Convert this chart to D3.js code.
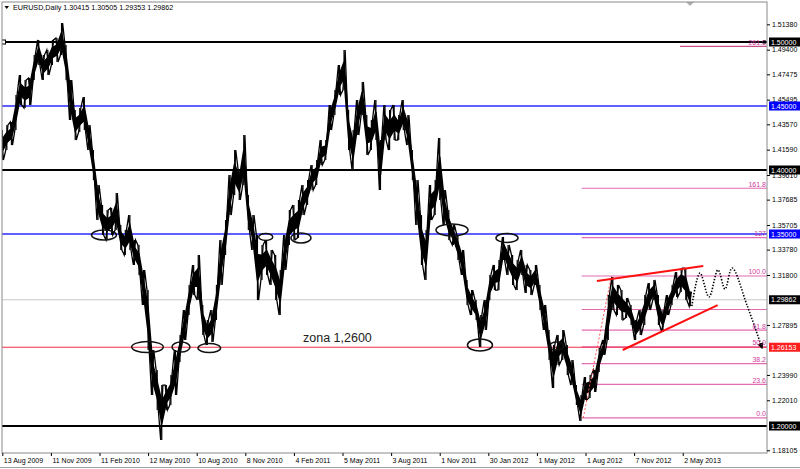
<!DOCTYPE html>
<html><head><meta charset="utf-8">
<script src="https://cdn.jsdelivr.net/npm/d3@7"></script>
<style>
body{margin:0;background:#fff}
svg{display:block}
text{font-family:"Liberation Sans",Arial,sans-serif}
</style>
</head><body>
<svg id="c" width="800" height="469"></svg>
<script>
// ---------- DATA ----------
const symbolName = "EURUSD,Daily";
const lastOHLC = [1.30415, 1.30505, 1.29353, 1.29862];
const dateLabels = ["13 Aug 2009","11 Nov 2009","11 Feb 2010","12 May 2010","10 Aug 2010","8 Nov 2010","4 Feb 2011","5 May 2011","3 Aug 2011","1 Nov 2011","30 Jan 2012","1 May 2012","1 Aug 2012","7 Nov 2012","2 May 2013"];
const barsPerLabel = 64;     // trading days between date labels
const barsPerSample = 6;     // trading days per high/low sample
const highs = [1.4312,1.4352,1.4375,1.4586,1.4742,1.4703,1.4719,1.4898,1.5016,1.4898,
1.4937,1.5016,1.5031,1.5148,1.4976,1.4703,1.4469,1.4484,1.4570,1.4352,
1.4156,1.3883,1.3727,1.3687,1.3703,1.3820,1.3570,1.3531,1.3648,1.3453,
1.3414,1.3219,1.3062,1.2594,1.2438,1.2320,1.2320,1.2398,1.2594,1.2711,
1.2906,1.3102,1.3258,1.3336,1.2945,1.2828,1.2906,1.3102,1.3453,1.3609,
1.3961,1.4156,1.4000,1.4273,1.3805,1.3648,1.3492,1.3414,1.3453,1.3375,
1.3336,1.3219,1.3492,1.3687,1.3727,1.3766,1.3883,1.3922,1.4039,1.4078,
1.4234,1.4234,1.4508,1.4625,1.4820,1.4937,1.4469,1.4312,1.4547,1.4687,
1.4430,1.4391,1.4547,1.4234,1.4508,1.4469,1.4508,1.4430,1.4547,1.4430,
1.4156,1.3922,1.3648,1.3531,1.3883,1.3922,1.4250,1.3844,1.3687,1.3570,
1.3492,1.3375,1.3141,1.3062,1.2984,1.2867,1.2984,1.3180,1.3258,1.3297,
1.3477,1.3414,1.3336,1.3297,1.3375,1.3258,1.3219,1.3258,1.3102,1.2945,
1.2750,1.2633,1.2711,1.2750,1.2633,1.2516,1.2320,1.2242,1.2383,1.2398,
1.2438,1.2609,1.2672,1.3023,1.3164,1.3102,1.3062,1.3000,1.2945,1.2828,
1.2906,1.3023,1.3117,1.3141,1.3023,1.2906,1.3023,1.3102,1.3203,1.3234,
1.3234,1.3050];
const lows = [1.4078,1.4156,1.4195,1.4312,1.4508,1.4484,1.4508,1.4703,1.4820,1.4703,
1.4742,1.4820,1.4844,1.4898,1.4703,1.4391,1.4234,1.4297,1.4312,1.4156,
1.3922,1.3609,1.3492,1.3453,1.3492,1.3531,1.3375,1.3336,1.3375,1.3258,
1.3180,1.2945,1.2594,1.2242,1.2125,1.1891,1.2125,1.2164,1.2242,1.2500,
1.2672,1.2867,1.3023,1.2984,1.2711,1.2633,1.2656,1.2828,1.3102,1.3336,
1.3648,1.3805,1.3766,1.3883,1.3531,1.3375,1.2984,1.3141,1.3180,1.3102,
1.2984,1.2867,1.3219,1.3414,1.3453,1.3469,1.3648,1.3727,1.3844,1.3883,
1.4039,1.4078,1.4312,1.4430,1.4586,1.4625,1.4156,1.4000,1.4273,1.4430,
1.4117,1.4156,1.4234,1.3844,1.4234,1.4156,1.4234,1.4234,1.4312,1.4195,
1.3922,1.3570,1.3258,1.3141,1.3609,1.3648,1.3766,1.3570,1.3453,1.3414,
1.3297,1.3180,1.2945,1.2867,1.2828,1.2617,1.2750,1.2984,1.3062,1.3062,
1.3297,1.3180,1.3102,1.3062,1.3180,1.3039,1.3023,1.3102,1.2906,1.2750,
1.2516,1.2297,1.2477,1.2516,1.2398,1.2320,1.2164,1.2039,1.2203,1.2219,
1.2266,1.2422,1.2555,1.2672,1.2906,1.2867,1.2828,1.2844,1.2789,1.2672,
1.2711,1.2789,1.2906,1.2984,1.2789,1.2734,1.2867,1.2945,1.3008,1.3047,
1.2984,1.2935];
const yTickValues = [1.51380,1.49400,1.47475,1.45495,1.43570,1.41590,1.39610,1.37685,1.35705,1.33780,1.31800,1.27895,1.23990,1.22010,1.18105];
const blackLevels = [1.50000, 1.40000, 1.20000];
const blueLevels = [1.45000, 1.35000];
const zoneLevel = 1.26153;
const lastClose = 1.29862;
const fibRatios = [0, 23.6, 38.2, 50.0, 61.8, 76.4, 100.0, 127, 161.8, 261.8];
const fibText   = ["0.0","23.6","38.2","50.0","61.8","","100.0","127","161.8","261.8"];
const fibAnchorBar = [765, 802];       // bar index of swing low / swing high
const fibAnchorPrice = [1.2063, 1.3172];
const fibStartBar = 763;
const upperTrendBar = [783, 923], upperTrendPrice = [1.3133, 1.3250];
const lowerTrendBar = [817, 942], lowerTrendPrice = [1.2594, 1.2945];
const projBar   = [908, 918.7, 930.6, 942.4, 951.7, 961, 980.6, 1000.4];
const projPrice = [1.2937, 1.3195, 1.3008, 1.3219, 1.3070, 1.3234, 1.2945, 1.2609];
const circleBar   = [133.9, 191.2, 235.3, 272.6, 346.9, 393.3, 592.2, 664.6, 629, 730];
const circlePrice = [1.3492, 1.2617, 1.2617, 1.2609, 1.3477, 1.3469, 1.3531, 1.3469, 1.2633, 1.2625];
const circleRx = [12.5, 15.8, 9, 11.3, 7, 10, 16, 11, 12.5, 7];
const circleRy = [5, 5.5, 5, 4.5, 3.5, 5, 6, 4.5, 6, 4];
const zoneText = "zona 1,2600";
const zoneTextBar = 396, zoneTextPrice = 1.2660;

// ---------- LAYOUT ----------
const svg = d3.select("#c");
const L = 2.3, R = 767, T = 2, B = 453;
const totalBars = 1008;
const x = d3.scaleLinear().domain([0, totalBars]).range([L, L + totalBars * 0.7594]);
const y = d3.scaleLinear().domain([1.17891, 1.53125]).range([B, T]);
const fs = 7;

svg.append("rect").attr("width",800).attr("height",469).attr("fill","#fff");

const plot = svg.append("g");
plot.append("clipPath").attr("id","clip").append("rect")
  .attr("x",2).attr("y",2).attr("width",R-2).attr("height",B-2);
const pg = plot.append("g").attr("clip-path","url(#clip)");

// last close line
pg.append("line").attr("x1",2).attr("x2",R).attr("y1",y(lastClose)).attr("y2",y(lastClose))
  .attr("stroke","#c8c8c8").attr("stroke-width",1);

// fib lines
const fibP = r => fibAnchorPrice[0] + (fibAnchorPrice[1]-fibAnchorPrice[0]) * r/100;
fibRatios.forEach((r,i) => {
  const yy = y(fibP(r));
  const xs = r > 200 ? 680 : x(fibStartBar);
  pg.append("line").attr("x1",xs).attr("x2",R).attr("y1",yy).attr("y2",yy)
    .attr("stroke", r > 200 ? "#c8508c" : "#e36bb4").attr("stroke-width",1.2);
});

// zone (red) line
pg.append("line").attr("x1",2).attr("x2",R).attr("y1",y(zoneLevel)).attr("y2",y(zoneLevel))
  .attr("stroke","#f0304a").attr("stroke-width",1.2);

// level lines
blueLevels.forEach(p => pg.append("line").attr("x1",2).attr("x2",R).attr("y1",y(p)).attr("y2",y(p))
  .attr("stroke","#2a2aff").attr("stroke-width",1.3));
blackLevels.forEach(p => pg.append("line").attr("x1",2).attr("x2",R).attr("y1",y(p)).attr("y2",y(p))
  .attr("stroke","#000").attr("stroke-width",2));

// price: dense core band + jagged high/low zigzag
const idx = d3.range(highs.length);
const core = d3.area().x(i => x(i*barsPerSample))
  .y0(i => y(lows[i] + (highs[i]-lows[i])*0.3))
  .y1(i => y(highs[i] - (highs[i]-lows[i])*0.3));
pg.append("path").datum(idx).attr("d",core).attr("fill","#000").attr("stroke","#000").attr("stroke-width",1.5);
const zz = [];
idx.forEach(i => {
  const xc = x(i*barsPerSample);
  if (i % 2 === 0) { zz.push([xc-1.1, y(highs[i])], [xc+1.1, y(lows[i])]); }
  else { zz.push([xc-1.1, y(lows[i])], [xc+1.1, y(highs[i])]); }
});
pg.append("path").attr("d", d3.line()(zz)).attr("fill","none").attr("stroke","#000").attr("stroke-width",1.3);
pg.selectAll("line.bar").data(idx).join("line").attr("class","bar")
  .attr("x1",i=>x(i*barsPerSample)).attr("x2",i=>x(i*barsPerSample))
  .attr("y1",i=>y(lows[i])).attr("y2",i=>y(highs[i]))
  .attr("stroke","#000").attr("stroke-width",1.2);

// fib connecting dashed line
pg.append("line").attr("x1",x(fibAnchorBar[0])).attr("y1",y(fibAnchorPrice[0]))
  .attr("x2",x(fibAnchorBar[1])).attr("y2",y(fibAnchorPrice[1]))
  .attr("stroke","#ff5555").attr("stroke-width",1).attr("stroke-dasharray","2,2");

// trend lines
[[upperTrendBar,upperTrendPrice],[lowerTrendBar,lowerTrendPrice]].forEach(([b,p]) =>
  pg.append("line").attr("x1",x(b[0])).attr("y1",y(p[0])).attr("x2",x(b[1])).attr("y2",y(p[1]))
    .attr("stroke","#ff1010").attr("stroke-width",2));

// ellipses
circleBar.forEach((b,i) => pg.append("ellipse").attr("cx",x(b)).attr("cy",y(circlePrice[i]))
  .attr("rx",circleRx[i]).attr("ry",circleRy[i]).attr("fill","none").attr("stroke","#111").attr("stroke-width",1.5));

// projection
const defs = svg.append("defs");
defs.append("marker").attr("id","arr").attr("viewBox","0 0 10 10").attr("refX",8).attr("refY",5)
  .attr("markerWidth",4).attr("markerHeight",4).attr("orient","auto")
  .append("path").attr("d","M0,0L10,5L0,10z").attr("fill","#000");
const pline = d3.line().x(i=>x(projBar[i])).y(i=>y(projPrice[i])).curve(d3.curveCatmullRom.alpha(0.5));
pg.append("path").datum(d3.range(projBar.length)).attr("d",pline).attr("fill","none")
  .attr("stroke","#000").attr("stroke-width",1.6).attr("stroke-dasharray","1.4,1.6")
  .attr("marker-end","url(#arr)");

// fib labels
fibRatios.forEach((r,i) => {
  if (!fibText[i]) return;
  pg.append("text").attr("x",R-1).attr("y",y(fibP(r))-1.5).attr("text-anchor","end")
    .attr("font-size",fs).attr("fill","#d03c9a").text(fibText[i]);
});

// zone text
pg.append("text").attr("x",x(zoneTextBar)).attr("y",y(zoneTextPrice)).attr("font-size",12.5)
  .attr("fill","#222").text(zoneText);

// endpoint markers on 1.5 line
pg.append("rect").attr("x",1.5).attr("y",y(1.5)-2).attr("width",4).attr("height",4)
  .attr("fill","#fff").attr("stroke","#000").attr("stroke-width",1);
pg.append("rect").attr("x",R-4).attr("y",y(1.5)-1.5).attr("width",3).attr("height",3).attr("fill","#000");

// chart shift marker
svg.append("path").attr("d","M686,2L694,2L690,6z").attr("fill","#b0b0b0");

// frame
svg.append("rect").attr("x",2).attr("y",2).attr("width",R-2).attr("height",B-2)
  .attr("fill","none").attr("stroke","#8a8a8a").attr("stroke-width",1);
svg.append("line").attr("x1",0).attr("x2",800).attr("y1",467.5).attr("y2",467.5).attr("stroke","#a0a0a0");

// title
svg.append("path").attr("d","M4.5,6L9,6L6.75,9z").attr("fill","#000");
svg.append("text").attr("x",13).attr("y",10).attr("font-size",7.2).attr("fill","#000")
  .text(symbolName + " " + lastOHLC.map(v=>v.toFixed(5)).join(" "));

// x axis
const xa = d3.axisBottom(x).tickValues(dateLabels.map((d,i)=>i*barsPerLabel))
  .tickFormat((d,i)=>dateLabels[i]).tickSize(3).tickPadding(2);
const gx = svg.append("g").attr("transform",`translate(0,${B})`).call(xa);
gx.select(".domain").remove();
gx.selectAll("text").attr("text-anchor","start").attr("dx",1).attr("font-size",fs).attr("fill","#000")
  .attr("font-family","Liberation Sans, Arial, sans-serif");
gx.selectAll("line").attr("stroke","#000");

// y axis
const ya = d3.axisRight(y).tickValues(yTickValues).tickFormat(d3.format(".5f")).tickSize(3).tickPadding(2);
const gy = svg.append("g").attr("transform",`translate(${R},0)`).call(ya);
gy.select(".domain").remove();
gy.selectAll("text").attr("font-size",fs).attr("fill","#000").attr("font-family","Liberation Sans, Arial, sans-serif");
gy.selectAll("line").attr("stroke","#000");

// highlighted price labels
const boxes = [
  ...blackLevels.map(p=>[p,"#000"]), ...blueLevels.map(p=>[p,"#0000ff"]),
  [lastClose,"#000"], [zoneLevel,"#ff1e1e"]
];
boxes.forEach(([p,c]) => {
  const yy = y(p);
  svg.append("rect").attr("x",R+2).attr("y",yy-4.5).attr("width",800-R-2).attr("height",9).attr("fill",c);
  svg.append("text").attr("x",R+4).attr("y",yy+2.6).attr("font-size",fs).attr("fill","#fff").text(p.toFixed(5));
});
</script>
</body></html>
